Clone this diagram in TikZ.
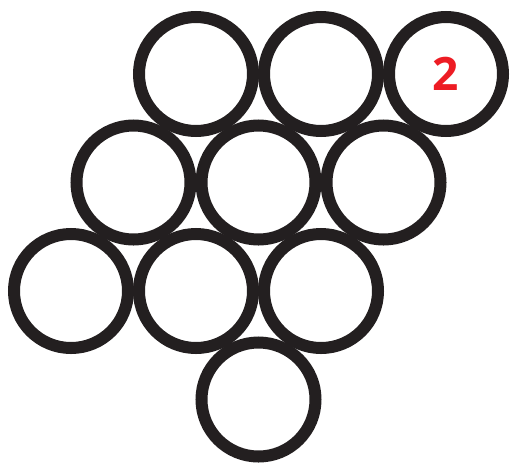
\documentclass[tikz,border=0pt]{standalone}
\usepackage{fontspec}
\setsansfont{Open Sans}
\definecolor{ringblack}{HTML}{231F20}
\definecolor{labelred}{HTML}{ED1C24}
\begin{document}
\begin{tikzpicture}[x=1pt,y=-1pt,
		ring/.style={circle, draw=ringblack, line width=12pt, minimum size=114pt, inner sep=0pt},
		mark label/.style={text=labelred, font=\sffamily\bfseries\fontsize{46}{46}\selectfont}]
		\useasboundingbox (0,0) rectangle (514,464);
		% top row
		\node (r1a) [ring] at (196,74) {};
		\node (r1b) [ring] at (321,74) {};
		\node (r1c) [ring] at (446,74) {};
		% second row
		\node (r2a) [ring] at (133.5,182.5) {};
		\node (r2b) [ring] at (258.5,182.5) {};
		\node (r2c) [ring] at (383.5,182.5) {};
		% third row
		\node (r3a) [ring] at (71,291) {};
		\node (r3b) [ring] at (196,291) {};
		\node (r3c) [ring] at (321,291) {};
		% bottom
		\node (r4a) [ring] at (258.5,399.5) {};
		\node (num) [mark label] at (r1c) {2};
	\end{tikzpicture}
\end{document}
